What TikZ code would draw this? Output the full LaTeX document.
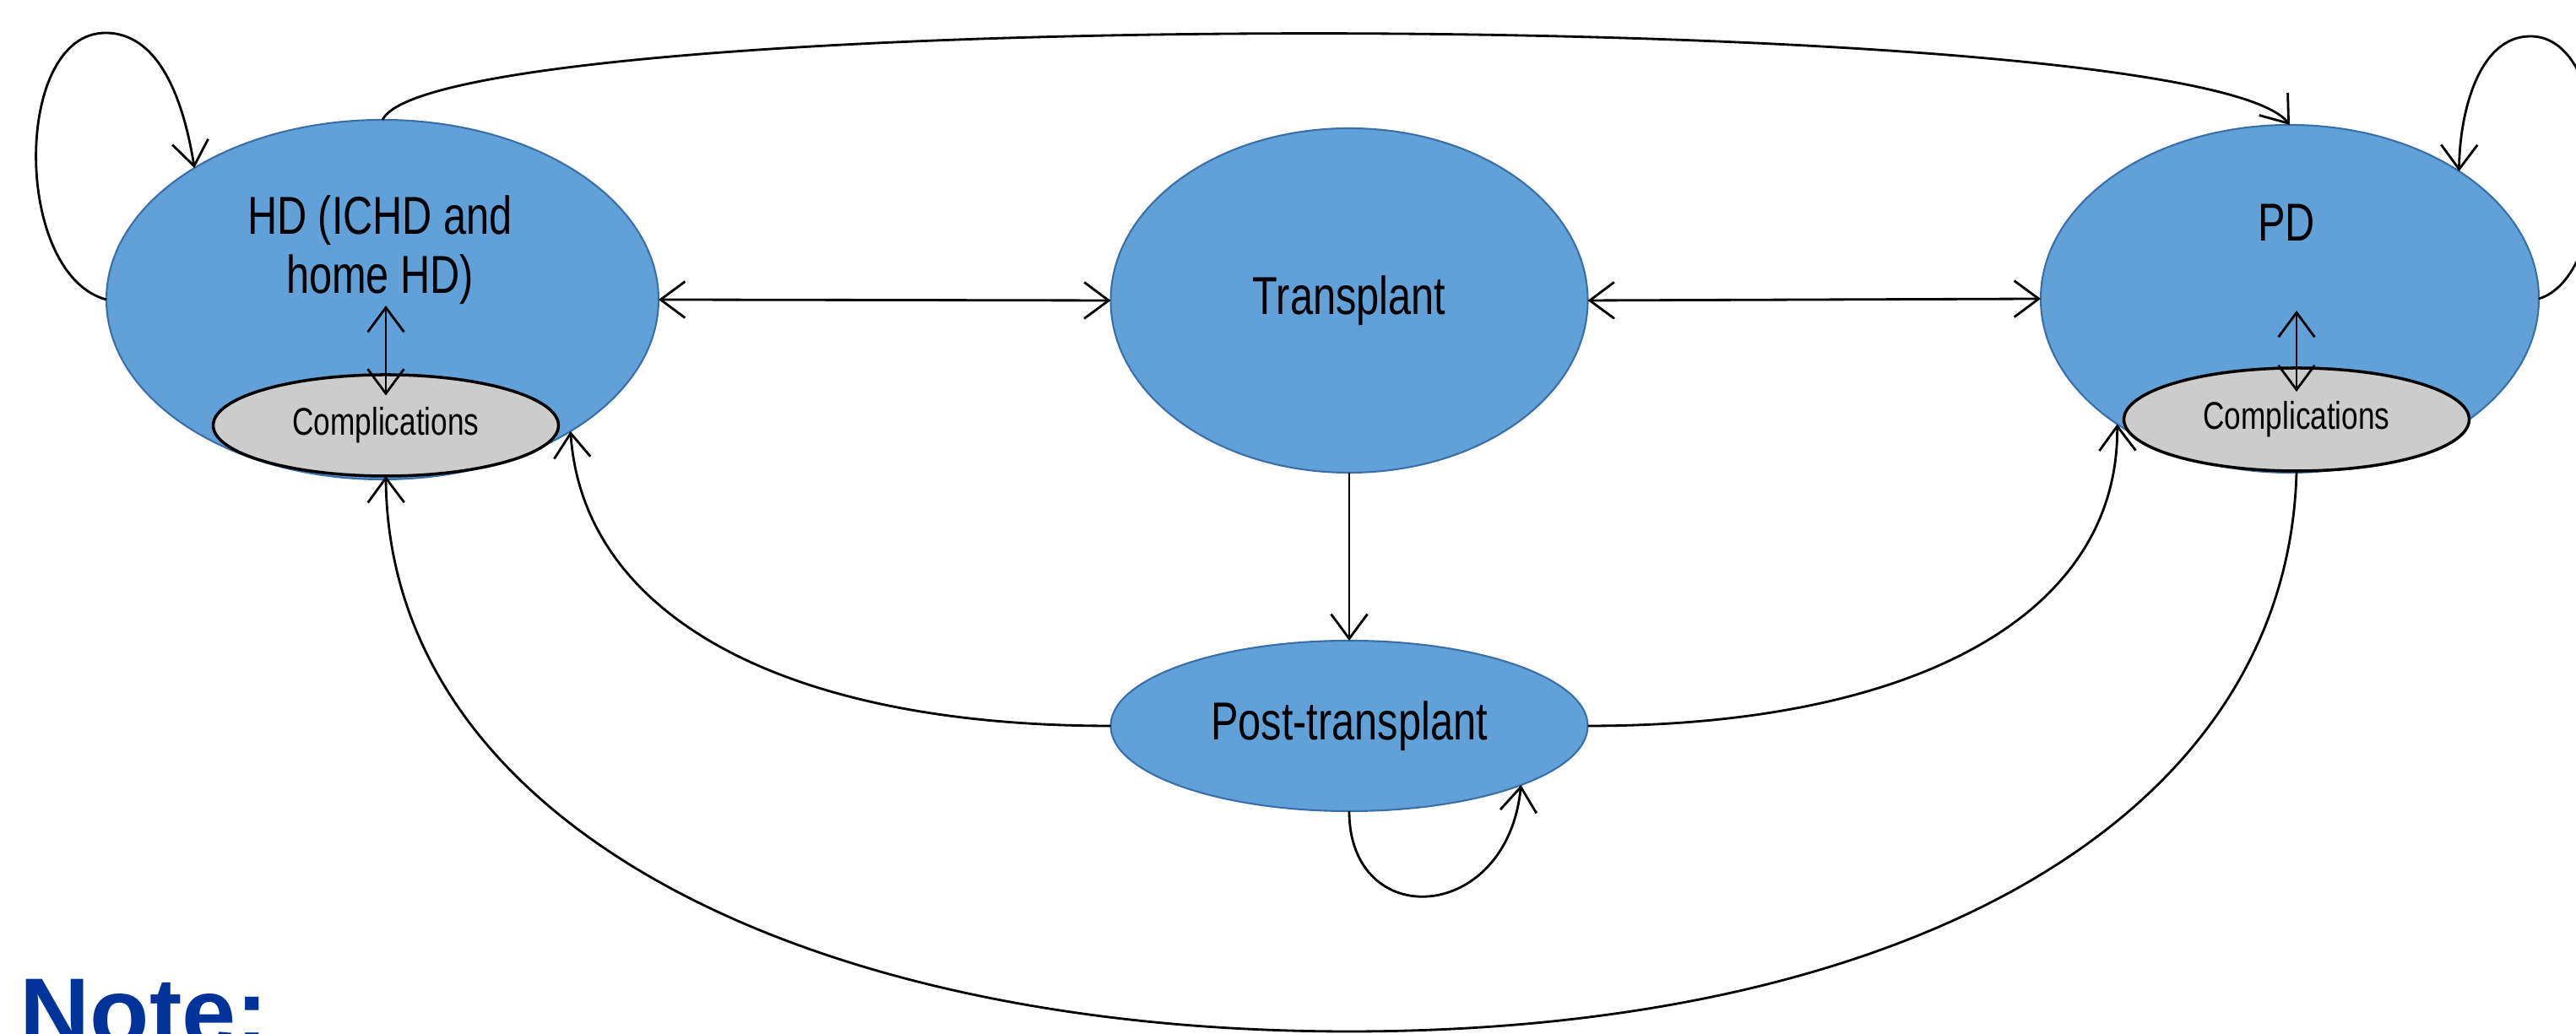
\documentclass[tikz,border=0pt]{standalone}
\usepackage{fontspec}
\setmainfont{Liberation Sans}
\newfontfamily\narrowsans[FakeStretch=0.77]{Liberation Sans}
\usepackage{tikz}
\usetikzlibrary{arrows.meta,shapes.geometric}
\definecolor{statefill}{HTML}{62A0D8}
\definecolor{stateedge}{HTML}{3A6FA8}
\definecolor{compfill}{HTML}{CCCCCC}
\definecolor{notetext}{HTML}{003399}
\tikzset{
    stateshape/.style={ellipse, draw=stateedge, line width=0.6pt, fill=statefill, inner sep=0pt, outer sep=0pt, font=\narrowsans\fontsize{18}{20}\selectfont},
    compbox/.style={ellipse, draw=black, line width=1pt, fill=compfill, inner sep=0pt, outer sep=0pt, minimum width=4.09cm, minimum height=1.2cm, font=\narrowsans\fontsize{13}{15}\selectfont},
    lbl/.style={inner sep=0pt, align=center, font=\narrowsans\fontsize{18}{20}\selectfont},
    arr/.style={-{Straight Barb[length=2.9mm,width=4.3mm]}, line width=0.8pt},
    twoway/.style={{Straight Barb[length=2.9mm,width=4.3mm]}-{Straight Barb[length=2.9mm,width=4.3mm]}, line width=0.8pt}
}

\begin{document}
\begin{tikzpicture}
    \useasboundingbox (0,0) rectangle (30.51,12.25);

    % States
    \node[stateshape, minimum width=6.54cm, minimum height=4.26cm] (HD) at (4.53,8.70) {};
    \node[stateshape, minimum width=5.65cm, minimum height=4.08cm] (Tx) at (15.98,8.69) {Transplant};
    \node[stateshape, minimum width=5.90cm, minimum height=4.12cm] (PD) at (27.12,8.71) {};
    \node[stateshape, minimum width=5.65cm, minimum height=2.02cm] (Post) at (15.98,3.65) {Post-transplant};

    % Complications
    \node[compbox] (HDcomp) at (4.57,7.21) {Complications};
    \node[compbox, minimum height=1.22cm] (PDcomp) at (27.20,7.28) {Complications};

    % Labels
    \node[lbl] (HDlbl) at (4.50,9.29) {HD (ICHD and\\home HD)};
    \node[lbl] (PDlbl) at (27.08,9.61) {PD};

    % Arrows between states
    \draw[twoway] (HD.east) -- (Tx.west);
    \draw[twoway] (Tx.east) -- (PD.west);
    \draw[arr] (Tx.south) -- (Post.north);

    % Arrows to complications
    \draw[twoway] ([yshift=-2pt]HDcomp.north |- HD.center) -- ([yshift=-7pt]HDcomp.north);
    \draw[twoway] ([yshift=-4pt]PDcomp.north |- PD.center) -- ([yshift=-8pt]PDcomp.north);

    % Self loops
    \draw[arr] (HD.west) .. controls (0.15,9.0) and (0.15,11.86) .. (1.25,11.86) .. controls (1.95,11.86) and (2.20,10.9) .. (HD.145);
    \draw[arr] (PD.east) .. controls (31.0,9.0) and (31.0,11.82) .. (29.97,11.82) .. controls (29.35,11.82) and (29.13,10.9) .. (PD.37);
    \draw[arr] (Post.south) .. controls (15.98,1.2) and (17.85,1.3) .. (Post.-19);

    % HD to PD
    \draw[arr] (HD.north) .. controls (5.2,12.2) and (26.0,12.2) .. (PD.north);

    % Post-transplant back to dialysis
    \draw[arr] (Post.west) .. controls (9.2,3.65) and (6.9,5.0) .. (HD.-35);
    \draw[arr] (Post.east) .. controls (22.75,3.65) and (25.1,5.0) .. (PD.216);

    % PD complications to HD complications
    \draw[arr] (PDcomp.south) .. controls (27.1,2.5) and (22.5,0.03) .. (15.98,0.03) .. controls (9.5,0.03) and (4.6,2.5) .. (HDcomp.south);

    % Note
    \node[font=\bfseries\fontsize{32.8}{38}\selectfont, text=notetext, anchor=base west, inner sep=0pt] (note) at (0.23,-0.15) {Note:};
\end{tikzpicture}
\end{document}
